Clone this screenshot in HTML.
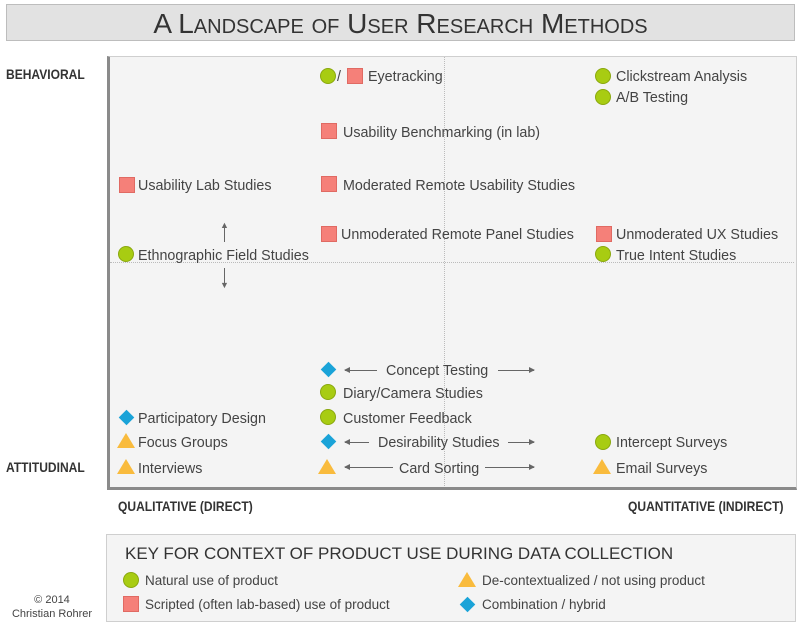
<!DOCTYPE html>
<html><head><meta charset="utf-8"><style>
body{margin:0;width:800px;height:629px;background:#fff;position:relative;font-family:"Liberation Sans",sans-serif;color:#444;overflow:hidden}
.a{position:absolute;white-space:nowrap}
.t{position:absolute;font-size:14.3px;line-height:18px;white-space:nowrap;color:#444}
.c{position:absolute;width:14px;height:14px;border-radius:50%;background:#a8cc12;border:1px solid #8aa80e}
.s{position:absolute;width:14px;height:14px;background:#f58079;border:1px solid #e06a63}
.d{position:absolute;width:11px;height:11px;background:#1aa3d8;transform:rotate(45deg)}
.tr{position:absolute;width:0;height:0;border-left:9px solid transparent;border-right:9px solid transparent;border-bottom:15px solid #f9bb3d}
.ax{position:absolute;white-space:nowrap;font-weight:bold;font-size:13.7px;color:#333;transform:scaleX(0.88);transform-origin:left}
.ar{position:absolute;height:1px;background:#666}
.ar.l:before{content:"";position:absolute;left:-1px;top:-3px;border-right:6px solid #666;border-top:3.5px solid transparent;border-bottom:3.5px solid transparent}
.ar.r:after{content:"";position:absolute;right:-1px;top:-3px;border-left:6px solid #666;border-top:3.5px solid transparent;border-bottom:3.5px solid transparent}
</style></head><body>
<div class="a" style="left:6px;top:4px;width:787px;height:35px;background:#e2e2e2;border:1px solid #bdbdbd;text-align:center;font-size:28px;line-height:37px;color:#333;font-variant:small-caps">A Landscape of User Research Methods</div>

<div class="a" style="left:107px;top:56px;width:686px;height:430px;background:#f4f4f4;border:1px solid #cfcfcf;border-left:3px solid #8a8a8a;border-bottom:3px solid #8a8a8a"></div>
<div class="a" style="left:444px;top:57px;height:429px;border-left:1px dotted #bbb"></div>
<div class="a" style="left:110px;top:262px;width:684px;border-top:1px dotted #bbb"></div>

<div class="ax" style="left:6px;top:67px">BEHAVIORAL</div>
<div class="ax" style="left:6px;top:460px">ATTITUDINAL</div>
<div class="ax" style="left:118px;top:499px">QUALITATIVE (DIRECT)</div>
<div class="ax" style="left:628px;top:499px">QUANTITATIVE (INDIRECT)</div>

<!-- col 1 -->
<div class="s" style="left:119px;top:177px"></div><div class="t" style="left:138px;top:177px">Usability Lab Studies</div>
<div class="c" style="left:118px;top:246px"></div><div class="t" style="left:138px;top:247px">Ethnographic Field Studies</div>
<div class="a" style="left:224px;top:224px;height:18px;border-left:1px solid #666"></div><div class="a" style="left:220px;top:220px;color:#666;font-size:9px">▲</div>
<div class="a" style="left:224px;top:268px;height:18px;border-left:1px solid #666"></div><div class="a" style="left:220px;top:280px;color:#666;font-size:9px">▼</div>
<div class="d" style="left:121px;top:412px"></div><div class="t" style="left:138px;top:410px">Participatory Design</div>
<div class="tr" style="left:117px;top:433px"></div><div class="t" style="left:138px;top:434px">Focus Groups</div>
<div class="tr" style="left:117px;top:459px"></div><div class="t" style="left:138px;top:460px">Interviews</div>

<!-- col 2 -->
<div class="c" style="left:320px;top:68px"></div><div class="t" style="left:337px;top:68px">/</div><div class="s" style="left:347px;top:68px"></div><div class="t" style="left:368px;top:68px">Eyetracking</div>
<div class="s" style="left:321px;top:123px"></div><div class="t" style="left:343px;top:124px">Usability Benchmarking (in lab)</div>
<div class="s" style="left:321px;top:176px"></div><div class="t" style="left:343px;top:177px">Moderated Remote Usability Studies</div>
<div class="s" style="left:321px;top:226px"></div><div class="t" style="left:341px;top:226px">Unmoderated Remote Panel Studies</div>
<div class="d" style="left:323px;top:364px"></div><div class="ar l" style="left:345px;top:370px;width:32px"></div><div class="t" style="left:386px;top:362px">Concept Testing</div><div class="ar r" style="left:498px;top:370px;width:36px"></div>
<div class="c" style="left:320px;top:384px"></div><div class="t" style="left:343px;top:385px">Diary/Camera Studies</div>
<div class="c" style="left:320px;top:409px"></div><div class="t" style="left:343px;top:410px">Customer Feedback</div>
<div class="d" style="left:323px;top:436px"></div><div class="ar l" style="left:345px;top:442px;width:24px"></div><div class="t" style="left:378px;top:434px">Desirability Studies</div><div class="ar r" style="left:508px;top:442px;width:26px"></div>
<div class="tr" style="left:318px;top:459px"></div><div class="ar l" style="left:345px;top:467px;width:48px"></div><div class="t" style="left:399px;top:460px">Card Sorting</div><div class="ar r" style="left:485px;top:467px;width:49px"></div>

<!-- col 3 -->
<div class="c" style="left:595px;top:68px"></div><div class="t" style="left:616px;top:68px">Clickstream Analysis</div>
<div class="c" style="left:595px;top:89px"></div><div class="t" style="left:616px;top:89px">A/B Testing</div>
<div class="s" style="left:596px;top:226px"></div><div class="t" style="left:616px;top:226px">Unmoderated UX Studies</div>
<div class="c" style="left:595px;top:246px"></div><div class="t" style="left:616px;top:247px">True Intent Studies</div>
<div class="c" style="left:595px;top:434px"></div><div class="t" style="left:616px;top:434px">Intercept Surveys</div>
<div class="tr" style="left:593px;top:459px"></div><div class="t" style="left:616px;top:460px">Email Surveys</div>

<!-- key -->
<div class="a" style="left:106px;top:534px;width:688px;height:86px;background:#f4f4f4;border:1px solid #cfcfcf"></div>
<div class="a" style="left:125px;top:544px;font-size:17px;color:#333">KEY FOR CONTEXT OF PRODUCT USE DURING DATA COLLECTION</div>
<div class="c" style="left:123px;top:572px"></div><div class="t" style="left:145px;top:572px;font-size:13.5px">Natural use of product</div>
<div class="s" style="left:123px;top:596px"></div><div class="t" style="left:145px;top:596px;font-size:13.5px">Scripted (often lab-based) use of product</div>
<div class="tr" style="left:458px;top:572px"></div><div class="t" style="left:482px;top:572px;font-size:13.5px">De-contextualized / not using product</div>
<div class="d" style="left:462px;top:599px"></div><div class="t" style="left:482px;top:596px;font-size:13.5px">Combination / hybrid</div>

<div class="a" style="left:0;width:104px;top:593px;text-align:center;font-size:11px;line-height:14px;color:#444">© 2014<br>Christian Rohrer</div>
</body></html>
